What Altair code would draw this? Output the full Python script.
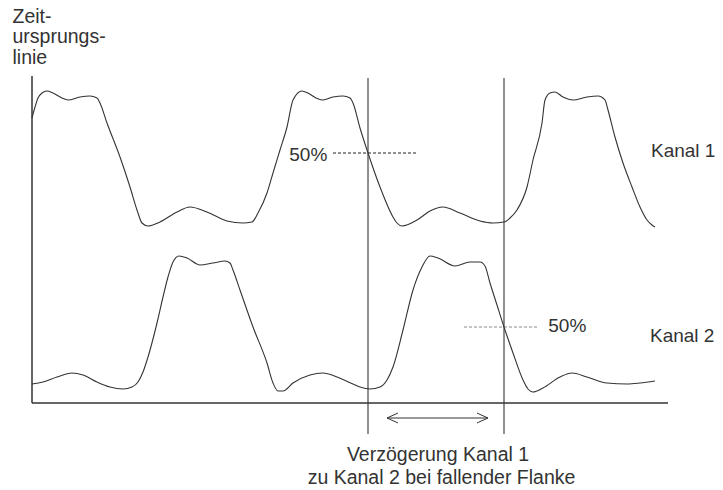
import altair as alt
import pandas as pd

# ---- data (time t, signal level v) ----
k1_t = [0, 3, 6, 10, 15, 21, 30, 36, 48, 58, 65, 68, 75, 88, 98, 105, 110, 116,
        128, 145, 158, 175, 195, 211, 220, 226, 235, 241, 248, 255, 261, 270,
        276, 284, 290, 301, 311, 318, 321, 328, 336, 348, 361, 365, 370,
        385, 398, 411, 428, 448, 461, 472, 478, 485, 495, 501, 510, 513, 518, 523,
        531, 541, 555, 566, 573, 576, 583, 591, 600, 608, 615, 620, 623]
k1_v = [285, 296, 305, 310, 312, 310, 305, 303, 306, 307, 305, 300, 280, 246, 216, 193, 180, 177,
        181, 191, 196, 191, 182, 180, 181, 190, 210, 230, 253, 276, 303, 312,
        310, 305, 303, 306, 307, 305, 300, 275, 250, 216, 186, 180, 177,
        183, 192, 196, 190, 182, 180, 181, 185, 193, 216, 243, 280, 303, 310, 311,
        306, 303, 306, 307, 303, 293, 266, 240, 216, 196, 183, 178, 176]

k2_t = [0, 11, 25, 40, 51, 65, 78, 91, 100, 106, 111, 116, 125, 131, 136, 141, 147,
        155, 168, 181, 193, 198, 201, 208, 221, 235, 241, 246, 251, 261, 278, 291,
        305, 321, 328, 338, 348, 355, 361, 371, 381, 390, 398, 406, 423, 438, 448,
        453, 458, 465, 472, 481, 491, 496, 501, 511, 528, 540, 555, 575, 595, 608, 623]
k2_v = [19, 21, 26, 30, 28, 21, 16, 14, 16, 21, 31, 46, 80, 106, 126, 141, 147,
        145, 138, 140, 142, 140, 133, 113, 76, 40, 20, 12, 12, 20, 28, 30,
        26, 19, 16, 14, 16, 23, 36, 73, 113, 136, 147, 145, 137, 141, 141,
        137, 120, 98, 76, 50, 23, 14, 11, 15, 26, 30, 26, 20, 19, 20, 22]

# guide lines: origin axis, time axis, edge markers
axis_t = [0, 0]
axis_t2 = [0, 636]
axis_v = [327, 0]
axis_v2 = [0, 0]
edge_t = [336, 472]
edge_v_top = 325
edge_v_bottom = -31
level_t = [301, 432]
level_t2 = [385, 507]
level_v = [250, 76]
arrow_t = [355, 456]
arrow_v = -15

# labels
origin_lines = ["Zeit-", "ursprungs-", "linie"]
origin_v = [380.5, 360.2, 339.5]
pct_labels = ["50%", "50%"]
pct_t = [295.3, 516.3]
pct_v = [242.3, 70.7]
channel_labels = ["Kanal 1", "Kanal 2"]
channel_t = [619, 618]
channel_v = [246.3, 61.3]
caption_lines = ["Verzögerung Kanal 1", "zu Kanal 2 bei fallender Flanke"]
caption_t = [406, 409.5]
caption_v = [-58, -81.3]

INK = "#333333"
FONT = "Liberation Sans"
FS = 19

xs = alt.Scale(domain=[-24, 683], nice=False, zero=False)
ys = alt.Scale(domain=[-87, 395], nice=False, zero=False)
X = lambda f: alt.X(f, type="quantitative", scale=xs, axis=None)
Y = lambda f: alt.Y(f, type="quantitative", scale=ys, axis=None)

waves = pd.concat([
    pd.DataFrame({"t": k1_t, "v": k1_v, "ch": "Kanal 1", "i": range(len(k1_t))}),
    pd.DataFrame({"t": k2_t, "v": k2_v, "ch": "Kanal 2", "i": range(len(k2_t))}),
])
wave_layer = alt.Chart(waves).mark_line(
    interpolate="monotone", color=INK, strokeWidth=1.1
).encode(x=X("t"), y=Y("v"), detail="ch:N", order="i:Q")

axes_df = pd.DataFrame({"t": axis_t, "t2": axis_t2, "v": axis_v, "v2": axis_v2})
axes_layer = alt.Chart(axes_df).mark_rule(color=INK, strokeWidth=1.5).encode(
    x=X("t"), x2="t2", y=Y("v"), y2="v2")

edge_df = pd.DataFrame({"t": edge_t, "v": edge_v_top, "v2": edge_v_bottom})
edge_layer = alt.Chart(edge_df).mark_rule(color=INK, strokeWidth=1.1).encode(
    x=X("t"), y=Y("v"), y2="v2")

lvl1 = pd.DataFrame({"t": level_t[:1], "t2": level_t2[:1], "v": level_v[:1]})
lvl2 = pd.DataFrame({"t": level_t[1:], "t2": level_t2[1:], "v": level_v[1:]})
lvl1_layer = alt.Chart(lvl1).mark_rule(color="#222222", strokeWidth=1, strokeDash=[3, 2]).encode(
    x=X("t"), x2="t2", y=Y("v"))
lvl2_layer = alt.Chart(lvl2).mark_rule(color="#8a8a8a", strokeWidth=1, strokeDash=[3, 2]).encode(
    x=X("t"), x2="t2", y=Y("v"))

arrow_df = pd.DataFrame({"t": [arrow_t[0]], "t2": [arrow_t[1]], "v": [arrow_v]})
arrow_layer = alt.Chart(arrow_df).mark_rule(color=INK, strokeWidth=1).encode(
    x=X("t"), x2="t2", y=Y("v"))
head_l = alt.Chart(pd.DataFrame({"t": [arrow_t[0]], "v": [arrow_v]})).mark_point(
    shape="M 2 -0.9 L 0 0 L 2 0.9", filled=False, size=121, stroke=INK, strokeWidth=1, opacity=1
).encode(x=X("t"), y=Y("v"))
head_r = alt.Chart(pd.DataFrame({"t": [arrow_t[1]], "v": [arrow_v]})).mark_point(
    shape="M -2 -0.9 L 0 0 L -2 0.9", filled=False, size=121, stroke=INK, strokeWidth=1, opacity=1
).encode(x=X("t"), y=Y("v"))

def text_layer(texts, ts, vs, align, size=FS):
    df = pd.DataFrame({"t": ts, "v": vs, "label": texts})
    return alt.Chart(df).mark_text(
        align=align, baseline="alphabetic", font=FONT, fontSize=size, color=INK
    ).encode(x=X("t"), y=Y("v"), text="label:N")

origin_text = text_layer(origin_lines, [-19.5] * 3, origin_v, "left", 19.5)
pct1_text = text_layer(pct_labels[:1], pct_t[:1], pct_v[:1], "right")
pct2_text = text_layer(pct_labels[1:], pct_t[1:], pct_v[1:], "left")
chan_text = text_layer(channel_labels, channel_t, channel_v, "left")
cap_text = text_layer(caption_lines, caption_t, caption_v, "center", 19.5)

chart = alt.layer(
    axes_layer, edge_layer, lvl1_layer, lvl2_layer, wave_layer,
    arrow_layer, head_l, head_r,
    origin_text, pct1_text, pct2_text, chan_text, cap_text
).properties(
    width=707, height=482, padding=0,
    autosize=alt.AutoSizeParams(type="none"),
    background="white"
).configure_view(stroke=None)

chart.save("out.html", embed_options={"renderer": "svg", "actions": False})
